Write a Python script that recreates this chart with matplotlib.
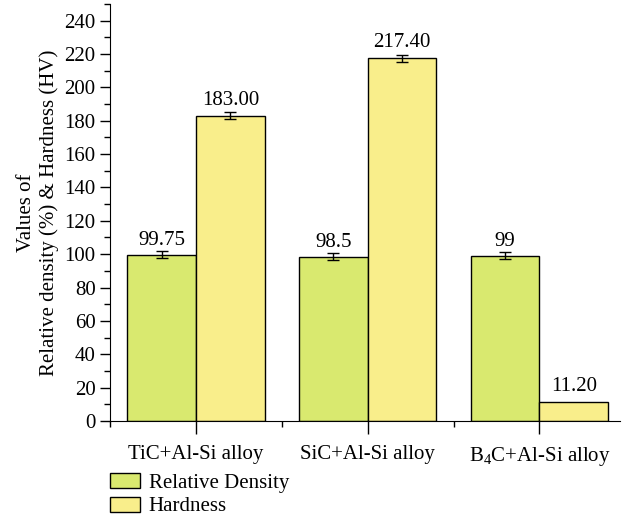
import numpy as np
import matplotlib
matplotlib.use("Agg")
import matplotlib.pyplot as plt
from matplotlib.patches import Patch
from matplotlib.ticker import MultipleLocator, FixedLocator

plt.rcParams['font.family'] = ['Liberation Serif', 'DejaVu Serif']
plt.rcParams['mathtext.fontset'] = 'custom'
plt.rcParams['mathtext.rm'] = 'Liberation Serif'
plt.rcParams['mathtext.it'] = 'Liberation Serif:italic'

# composites and measured properties
composites = ['TiC+Al-Si alloy', 'SiC+Al-Si alloy', 'B$_\\mathrm{4}$C+Al-Si alloy']
rel_density = [99.75, 98.5, 99]
rel_density_err = [2, 2, 2]
hardness = [183.00, 217.40, 11.20]
hardness_err = [2, 2, 0]

green = '#d9e96f'
yellow = '#f9ee8b'
fs = 15

fig = plt.figure(figsize=(6.22, 5.15), dpi=100)
ax = fig.add_axes([0.177, 0.1825, 0.82, 0.81])

x = np.arange(len(composites))
w = 0.4
ax.bar(x - w / 2, rel_density, w, color=green, edgecolor='black', linewidth=1)
ax.bar(x + w / 2, hardness, w, color=yellow, edgecolor='black', linewidth=1)

# error bars only where a deviation was reported
for xs, vals, errs in [(x - w / 2, rel_density, rel_density_err),
                       (x + w / 2, hardness, hardness_err)]:
    for xi, v, e in zip(xs, vals, errs):
        if e > 0:
            ax.errorbar(xi, v, yerr=e, fmt='none', ecolor='black',
                        elinewidth=1, capsize=4, capthick=1)

# value labels above each bar
for i in range(len(composites)):
    ax.text(x[i] - w / 2, rel_density[i] + 6, f"{rel_density[i]:g}",
            ha='center', va='baseline', fontsize=fs)
    ax.text(x[i] + w / 2, hardness[i] + 6.5, f"{hardness[i]:.2f}",
            ha='center', va='baseline', fontsize=fs)

ax.set_xlim(-0.5, 2.47)
ax.set_ylim(0, 250)
ax.yaxis.set_minor_locator(MultipleLocator(10))
ax.set_yticks(np.arange(0, 241, 20))
ax.set_xticks(x)
ax.set_xticklabels(composites)
ax.xaxis.set_minor_locator(FixedLocator([-0.5, 0.5, 1.5]))

ax.spines['top'].set_visible(False)
ax.spines['right'].set_visible(False)
ax.tick_params(axis='both', which='major', direction='out', labelsize=fs,
               length=7, width=1)
ax.tick_params(axis='both', which='minor', direction='out', length=4, width=1)
ax.tick_params(axis='x', which='major', length=9, pad=8)

ax.set_ylabel('Values of\nRelative density (%) & Hardness (HV)', fontsize=fs,
              linespacing=1.2)

handles = [Patch(facecolor=green, edgecolor='black', label='Relative Density'),
           Patch(facecolor=yellow, edgecolor='black', label='Hardness')]
fig.legend(handles=handles, loc='upper left', bbox_to_anchor=(0.177, 0.081),
           frameon=False, fontsize=fs, handlelength=1.45, handleheight=0.72,
           handletextpad=0.4, labelspacing=0.18, borderpad=0, borderaxespad=0)

fig.savefig('out.png', dpi=100)
